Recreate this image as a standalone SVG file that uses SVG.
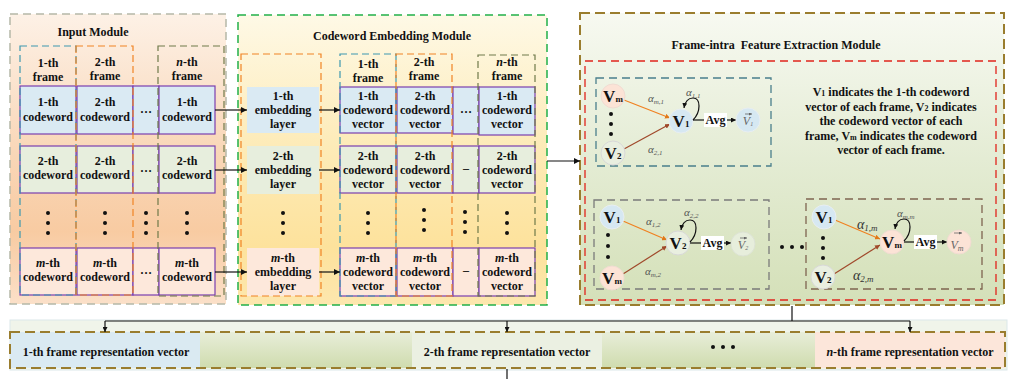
<svg xmlns="http://www.w3.org/2000/svg" width="1013" height="379" viewBox="0 0 1013 379">
<defs>
<linearGradient id="gIn" x1="0" y1="0" x2="0" y2="1">
<stop offset="0" stop-color="#fdf1e6"/><stop offset="0.45" stop-color="#f9d8ba"/><stop offset="0.75" stop-color="#f8cba2"/><stop offset="1" stop-color="#fbe0c8"/>
</linearGradient>
<linearGradient id="gEmb" x1="0" y1="0" x2="0" y2="1">
<stop offset="0" stop-color="#fef9e6"/><stop offset="0.45" stop-color="#fdebb8"/><stop offset="0.8" stop-color="#fde29c"/><stop offset="1" stop-color="#fde7ae"/>
</linearGradient>
<linearGradient id="gFife" x1="0" y1="0" x2="0" y2="1">
<stop offset="0" stop-color="#f7f9f1"/><stop offset="0.5" stop-color="#e4ecd4"/><stop offset="1" stop-color="#d4e0b8"/>
</linearGradient>
<linearGradient id="gBot" x1="0" y1="0" x2="0" y2="1">
<stop offset="0" stop-color="#e8eed9"/><stop offset="1" stop-color="#cfdcae"/>
</linearGradient>
<marker id="ah" markerUnits="userSpaceOnUse" markerWidth="6" markerHeight="6" refX="6" refY="3" orient="auto">
<path d="M0,0 L6,3 L0,6 z" fill="#111"/>
</marker>
<marker id="ahS" markerUnits="userSpaceOnUse" markerWidth="5" markerHeight="5" refX="5" refY="2.5" orient="auto">
<path d="M0,0 L5,2.5 L0,5 z" fill="#111"/>
</marker>
<marker id="ahT" markerUnits="userSpaceOnUse" markerWidth="3" markerHeight="3" refX="3" refY="1.5" orient="auto">
<path d="M0,0 L3,1.5 L0,3 z" fill="#666"/>
</marker>
<marker id="ahO" markerUnits="userSpaceOnUse" markerWidth="5" markerHeight="5" refX="5" refY="2.5" orient="auto">
<path d="M0,0 L5,2.5 L0,5 z" fill="#e07818"/>
</marker>
<marker id="ahB" markerUnits="userSpaceOnUse" markerWidth="5" markerHeight="5" refX="5" refY="2.5" orient="auto">
<path d="M0,0 L5,2.5 L0,5 z" fill="#a0482a"/>
</marker>
</defs>
<style>
text{font-family:"Liberation Serif","Times New Roman",serif;}
.t{font-size:12px;font-weight:bold;text-anchor:middle;fill:#111;}
.ti{font-style:italic;}
.blue{fill:#daeaf3;stroke:#7a3fb0;stroke-width:1.2;}
.green{fill:#e7eedd;stroke:#7a3fb0;stroke-width:1.2;}
.peach{fill:#fde8db;stroke:#7a3fb0;stroke-width:1.2;}
.eb{fill:#daeaf3;}
.eg{fill:#e7eedd;}
.ep{fill:#fde8db;}
.fTeal{fill:none;stroke:#3d98b0;stroke-width:1.2;stroke-dasharray:7 4;}
.fOr{fill:none;stroke:#f08424;stroke-width:1.2;stroke-dasharray:7 4;}
.fOl{fill:none;stroke:#6f7a4a;stroke-width:1.2;stroke-dasharray:7 4;}
.dot{fill:#111;}
.conn{fill:none;stroke:#111;stroke-width:1.2;}
.vn{font-size:17px;font-weight:bold;text-anchor:middle;fill:#111;}
.al{font-size:11px;font-style:italic;fill:#555;}
.alB{font-size:14px;font-style:italic;fill:#333;}
.avgb{fill:#fff;}
.cb{fill:#d6e8f2;stroke:#e8eef2;stroke-width:1;}
.cg{fill:#e9efe0;stroke:#d8d8d8;stroke-width:1;}
.cp{fill:#fce3d6;stroke:#f0dcd2;stroke-width:1;}
.vec{font-size:12px;font-style:italic;text-anchor:middle;fill:#666;}
.va{stroke:#666;stroke-width:0.8;fill:none;}
</style>

<!-- ============ Input Module ============ -->
<g id="input-module">
<rect x="10" y="14" width="216" height="290" fill="url(#gIn)" stroke="#b5b8a8" stroke-width="1.5" stroke-dasharray="8 5"/>
<text class="t" x="93" y="36">Input Module</text>
<text class="t" x="48" y="67">1-th</text><text class="t" x="48" y="81">frame</text>
<text class="t" x="105" y="66">2-th</text><text class="t" x="105" y="80">frame</text>
<text class="t" x="187" y="66"><tspan class="ti">n</tspan>-th</text><text class="t" x="187" y="80">frame</text>
<g id="in-r1c1"><rect class="blue" x="20" y="86" width="56" height="48"/><text class="t" x="48" y="106">1-th</text><text class="t" x="48" y="121">codeword</text></g>
<g id="in-r1c2"><rect class="blue" x="77" y="86" width="56" height="48"/><text class="t" x="105" y="106">2-th</text><text class="t" x="105" y="121">codeword</text></g>
<g id="in-r1cd"><rect class="blue" x="133" y="86" width="26" height="48"/><text class="t" x="146" y="113" font-size="8">…</text></g>
<g id="in-r1cn"><rect class="blue" x="159" y="86" width="56" height="48"/><text class="t" x="187" y="106">1-th</text><text class="t" x="187" y="121">codeword</text></g>
<g id="in-r2c1"><rect class="green" x="20" y="146" width="56" height="47"/><text class="t" x="48" y="165">2-th</text><text class="t" x="48" y="179">codeword</text></g>
<g id="in-r2c2"><rect class="green" x="77" y="146" width="56" height="47"/><text class="t" x="105" y="165">2-th</text><text class="t" x="105" y="179">codeword</text></g>
<g id="in-r2cd"><rect class="green" x="133" y="146" width="26" height="47"/><text class="t" x="146" y="172" font-size="8">…</text></g>
<g id="in-r2cn"><rect class="green" x="159" y="146" width="56" height="47"/><text class="t" x="187" y="165">2-th</text><text class="t" x="187" y="179">codeword</text></g>
<g id="in-dots">
<circle class="dot" cx="48" cy="213" r="2"/><circle class="dot" cx="48" cy="223" r="2"/><circle class="dot" cx="48" cy="233" r="2"/>
<circle class="dot" cx="105" cy="213" r="2"/><circle class="dot" cx="105" cy="223" r="2"/><circle class="dot" cx="105" cy="233" r="2"/>
<circle class="dot" cx="146" cy="213" r="2"/><circle class="dot" cx="146" cy="223" r="2"/><circle class="dot" cx="146" cy="233" r="2"/>
<circle class="dot" cx="187" cy="213" r="2"/><circle class="dot" cx="187" cy="223" r="2"/><circle class="dot" cx="187" cy="233" r="2"/>
</g>
<g id="in-rmc1"><rect class="peach" x="20" y="248" width="56" height="47"/><text class="t" x="48" y="267"><tspan class="ti">m</tspan>-th</text><text class="t" x="48" y="281">codeword</text></g>
<g id="in-rmc2"><rect class="peach" x="77" y="248" width="56" height="47"/><text class="t" x="105" y="267"><tspan class="ti">m</tspan>-th</text><text class="t" x="105" y="281">codeword</text></g>
<g id="in-rmcd"><rect class="peach" x="133" y="248" width="26" height="47"/><text class="t" x="146" y="274" font-size="8">…</text></g>
<g id="in-rmcn"><rect class="peach" x="159" y="248" width="56" height="47"/><text class="t" x="187" y="267"><tspan class="ti">m</tspan>-th</text><text class="t" x="187" y="281">codeword</text></g>
<rect class="fTeal" x="20" y="46" width="56" height="249"/>
<rect class="fOr" x="76" y="46" width="57" height="249"/>
<rect class="fOl" x="158" y="46" width="66" height="250"/>
</g>

<!-- ============ Codeword Embedding Module ============ -->
<g id="embedding-module">
<rect x="238" y="15" width="309" height="290" fill="url(#gEmb)" stroke="#22b04a" stroke-width="1.5" stroke-dasharray="8 5"/>
<text class="t" x="392" y="40">Codeword Embedding Module</text>
<g id="emb-l1"><rect class="eb" x="247" y="87" width="72" height="46"/><text class="t" x="283" y="100">1-th</text><text class="t" x="283" y="114">embedding</text><text class="t" x="283" y="128">layer</text></g>
<g id="emb-l2"><rect class="eg" x="247" y="146" width="72" height="48"/><text class="t" x="283" y="160">2-th</text><text class="t" x="283" y="174">embedding</text><text class="t" x="283" y="188">layer</text></g>
<g id="emb-lm"><rect class="ep" x="247" y="248" width="72" height="48"/><text class="t" x="283" y="262"><tspan class="ti">m</tspan>-th</text><text class="t" x="283" y="276">embedding</text><text class="t" x="283" y="290">layer</text></g>
<circle class="dot" cx="283" cy="213" r="2"/><circle class="dot" cx="283" cy="223" r="2"/><circle class="dot" cx="283" cy="233" r="2"/>
<rect class="fOr" x="241" y="54" width="80" height="242"/>

<text class="t" x="368" y="68">1-th</text><text class="t" x="368" y="82">frame</text>
<text class="t" x="424" y="66">2-th</text><text class="t" x="424" y="80">frame</text>
<text class="t" x="507" y="66"><tspan class="ti">n</tspan>-th</text><text class="t" x="507" y="80">frame</text>

<g id="vec-r1c1"><rect class="blue" x="340" y="87" width="56" height="46"/><text class="t" x="368" y="100">1-th</text><text class="t" x="368" y="114">codeword</text><text class="t" x="368" y="128">vector</text></g>
<g id="vec-r1c2"><rect class="blue" x="397" y="87" width="56" height="46"/><text class="t" x="425" y="100">2-th</text><text class="t" x="425" y="114">codeword</text><text class="t" x="425" y="128">vector</text></g>
<g id="vec-r1cd"><rect class="blue" x="453" y="87" width="26" height="47"/><text class="t" x="466" y="113" font-size="8">…</text></g>
<g id="vec-r1cn"><rect class="blue" x="479" y="87" width="56" height="48"/><text class="t" x="507" y="100">1-th</text><text class="t" x="507" y="114">codeword</text><text class="t" x="507" y="128">vector</text></g>

<g id="vec-r2c1"><rect class="green" x="340" y="146" width="56" height="47"/><text class="t" x="368" y="160">2-th</text><text class="t" x="368" y="174">codeword</text><text class="t" x="368" y="188">vector</text></g>
<g id="vec-r2c2"><rect class="green" x="397" y="146" width="56" height="47"/><text class="t" x="425" y="160">2-th</text><text class="t" x="425" y="174">codeword</text><text class="t" x="425" y="188">vector</text></g>
<g id="vec-r2cd"><rect class="green" x="453" y="146" width="26" height="47"/><text class="t" x="466" y="172" font-size="8">–</text></g>
<g id="vec-r2cn"><rect class="green" x="479" y="146" width="56" height="47"/><text class="t" x="507" y="160">2-th</text><text class="t" x="507" y="174">codeword</text><text class="t" x="507" y="188">vector</text></g>

<g id="vec-dots">
<circle class="dot" cx="368" cy="213" r="2"/><circle class="dot" cx="368" cy="223" r="2"/><circle class="dot" cx="368" cy="233" r="2"/>
<circle class="dot" cx="424" cy="210" r="2"/><circle class="dot" cx="424" cy="220" r="2"/><circle class="dot" cx="424" cy="230" r="2"/>
<circle class="dot" cx="465" cy="212" r="2"/><circle class="dot" cx="465" cy="222" r="2"/><circle class="dot" cx="465" cy="232" r="2"/>
<circle class="dot" cx="507" cy="213" r="2"/><circle class="dot" cx="507" cy="223" r="2"/><circle class="dot" cx="507" cy="233" r="2"/>
</g>

<g id="vec-rmc1"><rect class="peach" x="340" y="248" width="56" height="48"/><text class="t" x="368" y="262"><tspan class="ti">m</tspan>-th</text><text class="t" x="368" y="276">codeword</text><text class="t" x="368" y="290">vector</text></g>
<g id="vec-rmc2"><rect class="peach" x="397" y="248" width="56" height="48"/><text class="t" x="425" y="262"><tspan class="ti">m</tspan>-th</text><text class="t" x="425" y="276">codeword</text><text class="t" x="425" y="290">vector</text></g>
<g id="vec-rmcd"><rect class="peach" x="453" y="248" width="26" height="48"/><text class="t" x="466" y="274" font-size="8">–</text></g>
<g id="vec-rmcn"><rect class="peach" x="479" y="248" width="56" height="48"/><text class="t" x="507" y="262"><tspan class="ti">m</tspan>-th</text><text class="t" x="507" y="276">codeword</text><text class="t" x="507" y="290">vector</text></g>

<rect class="fTeal" x="340" y="54" width="56" height="242"/>
<rect class="fOr" x="396" y="54" width="56" height="242"/>
<rect class="fOl" x="478" y="55" width="57" height="241"/>
</g>

<!-- ============ Frame-intra Feature Extraction Module ============ -->
<g id="fife-module">
<rect x="580" y="13" width="424" height="292" fill="url(#gFife)" stroke="#9a7d2e" stroke-width="2" stroke-dasharray="10 5"/>
<text class="t" x="776" y="49">Frame-intra&#160; Feature Extraction Module</text>
<rect x="585" y="61" width="411" height="239" fill="none" stroke="#e0241c" stroke-width="1.3" stroke-dasharray="8 5"/>

<g id="sub1">
<rect x="596" y="78" width="175" height="88" fill="none" stroke="#4a7f8c" stroke-width="1.3" stroke-dasharray="8 5"/>
<line x1="624" y1="100" x2="670" y2="118" stroke="#f08020" stroke-width="1.2" marker-end="url(#ahO)"/>
<line x1="624" y1="149" x2="670" y2="124" stroke="#a0482a" stroke-width="1.2" marker-end="url(#ahB)"/>
<g id="s1-vm"><circle class="cp" cx="613" cy="96" r="12"/><text class="vn" x="613" y="102">V<tspan font-size="9">m</tspan></text></g>
<g id="s1-v2"><circle class="cg" cx="613" cy="153" r="12"/><text class="vn" x="613" y="159">V<tspan font-size="9">2</tspan></text></g>
<circle class="dot" cx="611" cy="114" r="2"/><circle class="dot" cx="611" cy="124" r="2"/><circle class="dot" cx="611" cy="134" r="2"/>
<g id="s1-v1"><circle class="cb" cx="681" cy="121" r="12"/><text class="vn" x="681" y="127">V<tspan font-size="9">1</tspan></text></g>
<path class="conn" d="M693,120 C701,112 701,98 693,98 C688,98 685,102 684,108" marker-end="url(#ahS)"/>
<line class="conn" x1="693" y1="120" x2="705" y2="120"/>
<rect class="avgb" x="704" y="113" width="23" height="14"/>
<text class="t" x="715.5" y="124">Avg</text>
<line class="conn" x1="727" y1="120" x2="736" y2="120" marker-end="url(#ahS)"/>
<g id="s1-vec"><circle class="cb" cx="748" cy="120" r="12"/><text class="vec" x="748" y="125">V<tspan font-size="6" dy="1">1</tspan></text><path class="va" d="M745,114 L752,114" marker-end="url(#ahT)"/></g>
<text class="al" x="648" y="102">α<tspan font-size="7" dy="2">m,1</tspan></text>
<text class="al" x="648" y="153">α<tspan font-size="7" dy="2">2,1</tspan></text>
<text class="al" x="686" y="96">α<tspan font-size="7" dy="2">1,1</tspan></text>
</g>

<g id="note">
<text class="t" x="891" y="96" font-size="11.5">V<tspan font-size="8">1</tspan> indicates the 1-th codeword</text>
<text class="t" x="891" y="111" font-size="11.5">vector of each frame, V<tspan font-size="8">2</tspan> indicates</text>
<text class="t" x="891" y="125" font-size="11.5">the codeword vector of each</text>
<text class="t" x="891" y="140" font-size="11.5">frame, V<tspan font-size="8">m</tspan> indicates the codeword</text>
<text class="t" x="891" y="154" font-size="11.5">vector of each frame.</text>
</g>

<g id="sub2">
<rect x="594" y="200" width="175" height="89" fill="none" stroke="#7a7a7a" stroke-width="1.3" stroke-dasharray="8 5"/>
<line x1="623" y1="221" x2="667" y2="240" stroke="#f08020" stroke-width="1.2" marker-end="url(#ahO)"/>
<line x1="623" y1="274" x2="667" y2="246" stroke="#a0482a" stroke-width="1.2" marker-end="url(#ahB)"/>
<g id="s2-v1"><circle class="cb" cx="612" cy="217" r="12"/><text class="vn" x="612" y="223">V<tspan font-size="9">1</tspan></text></g>
<g id="s2-vm"><circle class="cp" cx="612" cy="278" r="12"/><text class="vn" x="612" y="284">V<tspan font-size="9">m</tspan></text></g>
<circle class="dot" cx="608" cy="235" r="2"/><circle class="dot" cx="608" cy="246" r="2"/><circle class="dot" cx="608" cy="257" r="2"/>
<g id="s2-v2"><circle class="cg" cx="678" cy="243" r="12"/><text class="vn" x="678" y="249">V<tspan font-size="9">2</tspan></text></g>
<path class="conn" d="M690,242 C698,234 698,220 690,220 C685,220 682,224 681,230" marker-end="url(#ahS)"/>
<line class="conn" x1="690" y1="243" x2="702" y2="243"/>
<rect class="avgb" x="701" y="236" width="23" height="14"/>
<text class="t" x="712.5" y="247">Avg</text>
<line class="conn" x1="724" y1="243" x2="731" y2="243" marker-end="url(#ahS)"/>
<g id="s2-vec"><circle cx="743" cy="244" r="12" fill="#e7eedc" stroke="#dde3d5"/><text class="vec" x="743" y="249">V<tspan font-size="6" dy="1">2</tspan></text><path class="va" d="M740,238 L747,238" marker-end="url(#ahT)"/></g>
<text class="al" x="646" y="225">α<tspan font-size="7" dy="2">1,2</tspan></text>
<text class="al" x="645" y="275">α<tspan font-size="7" dy="2">m,2</tspan></text>
<text class="al" x="684" y="216">α<tspan font-size="7" dy="2">2,2</tspan></text>
</g>

<g id="between-dots">
<circle class="dot" cx="782" cy="247" r="2"/><circle class="dot" cx="792" cy="247" r="2"/><circle class="dot" cx="802" cy="247" r="2"/>
</g>

<g id="sub3">
<rect x="806" y="199" width="176" height="90" fill="none" stroke="#7f6450" stroke-width="1.3" stroke-dasharray="8 5"/>
<line x1="835" y1="220" x2="880" y2="239" stroke="#f08020" stroke-width="1.2" marker-end="url(#ahO)"/>
<line x1="834" y1="274" x2="880" y2="245" stroke="#a0482a" stroke-width="1.2" marker-end="url(#ahB)"/>
<g id="s3-v1"><circle class="cb" cx="824" cy="217" r="12"/><text class="vn" x="824" y="223">V<tspan font-size="9">1</tspan></text></g>
<g id="s3-v2"><circle class="cg" cx="823" cy="277" r="12"/><text class="vn" x="823" y="283">V<tspan font-size="9">2</tspan></text></g>
<circle class="dot" cx="823" cy="238" r="2"/><circle class="dot" cx="823" cy="248" r="2"/><circle class="dot" cx="823" cy="258" r="2"/>
<g id="s3-vm"><circle class="cp" cx="892" cy="242" r="12"/><text class="vn" x="892" y="248">V<tspan font-size="9">m</tspan></text></g>
<path class="conn" d="M904,241 C912,233 912,219 904,219 C899,219 896,223 895,229" marker-end="url(#ahS)"/>
<line class="conn" x1="904" y1="242" x2="915" y2="242"/>
<rect class="avgb" x="914" y="235" width="23" height="14"/>
<text class="t" x="925.5" y="246">Avg</text>
<line class="conn" x1="937" y1="242" x2="947" y2="242" marker-end="url(#ahS)"/>
<g id="s3-vec"><circle class="cp" cx="959" cy="242" r="12"/><text class="vec" x="957" y="249" font-size="15">V<tspan font-size="8" dy="2">m</tspan></text><path class="va" d="M954,233 L962,233" marker-end="url(#ahT)"/></g>
<text class="alB" x="857" y="229">α<tspan font-size="9" dy="2">1,<tspan font-style="italic">m</tspan></tspan></text>
<text class="alB" x="853" y="280">α<tspan font-size="9" dy="2">2,<tspan font-style="italic">m</tspan></tspan></text>
<text class="al" x="897" y="217">α<tspan font-size="7" dy="2">m,m</tspan></text>
</g>
</g>

<!-- ============ Bottom representation strip ============ -->
<g id="representation-strip">
<rect x="10" y="320" width="997" height="50" fill="#f0f4ea" stroke="#dbe8ea" stroke-width="1"/>
<rect x="10" y="332" width="995" height="36" fill="url(#gBot)"/>
<g id="rep-1"><rect x="10" y="332" width="190" height="36" fill="#daeaf2"/><text class="t" x="106" y="356">1-th frame representation vector</text></g>
<g id="rep-2"><rect x="412" y="332" width="190" height="36" fill="#ebf0e2"/><text class="t" x="507" y="356">2-th frame representation vector</text></g>
<g id="rep-dots"><circle class="dot" cx="713" cy="347" r="2"/><circle class="dot" cx="723" cy="347" r="2"/><circle class="dot" cx="733" cy="347" r="2"/></g>
<g id="rep-n"><rect x="815" y="332" width="190" height="36" fill="#fce6da"/><text class="t" x="910" y="356"><tspan class="ti">n</tspan>-th frame representation vector</text></g>
<rect x="10" y="332" width="995" height="36" fill="none" stroke="#9a7d2e" stroke-width="2" stroke-dasharray="10 5"/>
</g>

<!-- ============ Connectors ============ -->
<g id="connectors">
<line class="conn" x1="215" y1="110" x2="247" y2="110" marker-end="url(#ah)"/>
<line class="conn" x1="215" y1="170" x2="247" y2="170" marker-end="url(#ah)"/>
<line class="conn" x1="215" y1="272" x2="247" y2="272" marker-end="url(#ah)"/>
<line class="conn" x1="319" y1="110" x2="340" y2="110" marker-end="url(#ah)"/>
<line class="conn" x1="319" y1="170" x2="340" y2="170" marker-end="url(#ah)"/>
<line class="conn" x1="319" y1="272" x2="340" y2="272" marker-end="url(#ah)"/>
<line class="conn" x1="547" y1="161" x2="580" y2="161" marker-end="url(#ah)"/>
<line class="conn" x1="792" y1="306" x2="792" y2="321"/>
<line class="conn" x1="105" y1="321" x2="910" y2="321"/>
<line class="conn" x1="105" y1="321" x2="105" y2="332" marker-end="url(#ahS)"/>
<line class="conn" x1="507" y1="321" x2="507" y2="332" marker-end="url(#ahS)"/>
<line class="conn" x1="910" y1="321" x2="910" y2="332" marker-end="url(#ahS)"/>
<line class="conn" x1="507" y1="369" x2="507" y2="379" stroke-width="1.5"/>
</g>
</svg>
